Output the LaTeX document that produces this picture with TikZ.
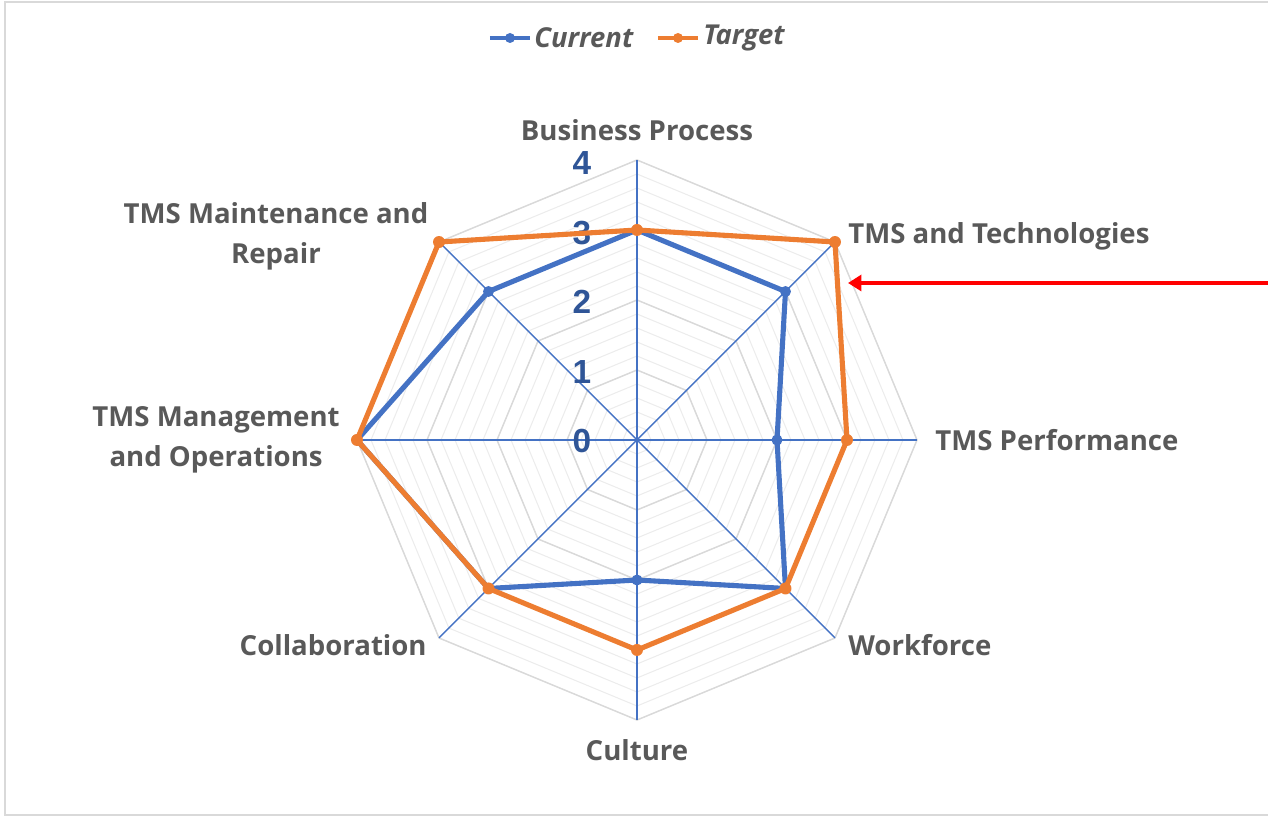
\documentclass[tikz,border=0pt]{standalone}
\usepackage{fontspec}
\setmainfont{Open Sans}
\newfontfamily\zahlfont{Liberation Sans}
\usetikzlibrary{arrows.meta}
\definecolor{aktuell}{HTML}{4472C4}
\definecolor{ziel}{HTML}{ED7D31}
\definecolor{textgrau}{HTML}{595959}
\definecolor{gitter}{HTML}{D9D9D9}
\definecolor{feingitter}{HTML}{ECECEC}
\definecolor{zahlblau}{HTML}{2F5597}
\tikzset{
	achse/.style={aktuell, line width=0.8pt},
	hauptgitter/.style={gitter, line width=0.8pt},
	feingitterlinie/.style={feingitter, line width=0.6pt},
	kurve/.style={line width=2.9pt, line join=round},
	beschriftung/.style={font=\fontsize{15.7}{22.7}\selectfont\bfseries, text=textgrau, inner sep=0pt, align=center},
	zahl/.style={font=\zahlfont\fontsize{19}{19}\selectfont\bfseries, text=zahlblau, inner sep=0pt},
	legende/.style={font=\fontsize{15.6}{18}\selectfont\bfseries\itshape, text=textgrau, inner sep=0pt, anchor=west},
	pfeil/.style={red, line width=2.3pt, -{Triangle[length=0.27cm, width=0.32cm]}}
}
\begin{document}
\begin{tikzpicture}[x=0.02cm, y=0.02cm]
	\useasboundingbox (-637,-377) rectangle (631,440);
	
	% Rahmen
	\draw[gitter, line width=1pt] (631,438) -- (-632,438) -- (-632,-375) -- (631,-375);
	
	% Gitter
	\foreach \r in {14,28,...,280}
		\draw[feingitterlinie] (0:\r) \foreach \w in {45,90,...,315} {-- (\w:\r)} -- cycle;
	\foreach \r in {70,140,210,280}
		\draw[hauptgitter] (0:\r) \foreach \w in {45,90,...,315} {-- (\w:\r)} -- cycle;
	
	% Achsen
	\coordinate (mitte) at (0,0);
	\foreach \w in {0,45,...,315}
		\draw[achse] (mitte) -- (\w:280);
	
	% Skala
	\node[zahl] (s0) at (-55,-1) {0};
	\node[zahl] (s1) at (-55,68) {1};
	\node[zahl] (s2) at (-55,138) {2};
	\node[zahl] (s3) at (-55,207) {3};
	\node[zahl] (s4) at (-55,277) {4};
	
	% Current
	\draw[kurve, aktuell] (90:210) -- (45:210) -- (0:140) -- (-45:210) -- (-90:140) -- (-135:210) -- (180:280) -- (135:210) -- cycle;
	\foreach \w/\r in {90/210,45/210,0/140,-45/210,-90/140,-135/210,180/280,135/210}
		\fill[aktuell] (\w:\r) circle (5.5);
	
	% Target
	\draw[kurve, ziel] (90:210) -- (45:280) -- (0:210) -- (-45:210) -- (-90:210) -- (-135:210) -- (180:280) -- (135:280) -- cycle;
	\foreach \w/\r in {90/210,45/280,0/210,-45/210,-90/210,-135/210,180/280,135/280}
		\fill[ziel] (\w:\r) circle (6);
	
	% Beschriftungen
	\node[beschriftung] (bp) at (0,310) {Business Process};
	\node[beschriftung, anchor=west] (tech) at (211,204) {TMS and Technologies};
	\node[beschriftung, anchor=west] (perf) at (298,0) {TMS Performance};
	\node[beschriftung, anchor=west] (work) at (211,-205) {Workforce};
	\node[beschriftung] (cult) at (0,-310) {Culture};
	\node[beschriftung, anchor=east] (coll) at (-210,-205) {Collaboration};
	\node[beschriftung, anchor=east] (mgmt) at (-297,0) {TMS Management\\and Operations};
	\node[beschriftung] (maint) at (-361,204) {TMS Maintenance and\\Repair};
	
	% Legende
	\draw[kurve, aktuell, line width=2.3pt] (-147,402) -- (-107,402);
	\fill[aktuell] (-127,402) circle (5);
	\node[legende] (lcur) at (-103,402) {Current};
	\draw[kurve, ziel, line width=2.3pt] (21,402) -- (61,402);
	\fill[ziel] (41,402) circle (5);
	\node[legende] (ltar) at (66,402) {Target};
	
	% Pfeil
	\coordinate (pfeilstart) at (631,157);
	\coordinate (pfeilziel) at (211,157);
	\draw[pfeil] (pfeilstart) -- (pfeilziel);
\end{tikzpicture}
\end{document}
